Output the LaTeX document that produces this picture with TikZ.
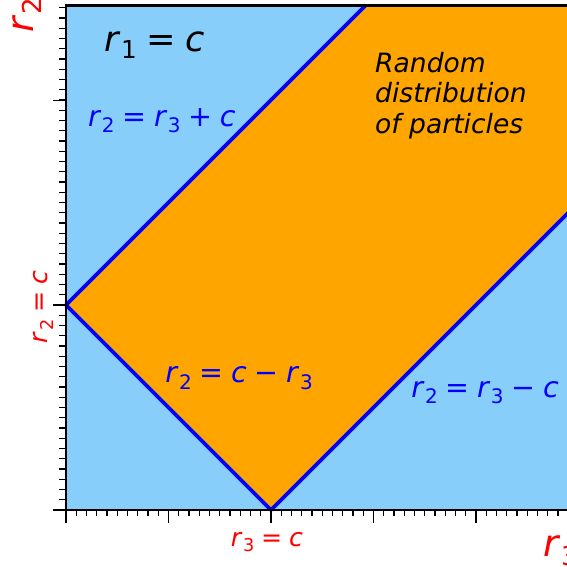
\documentclass[tikz,border=0pt]{standalone}
\usepackage{fontspec}
\setmainfont{DejaVu Sans}
\usetikzlibrary{positioning}
\definecolor{sky}{RGB}{135,206,250}
\definecolor{band}{RGB}{255,165,0}
\definecolor{edge}{RGB}{0,0,255}
\definecolor{axred}{RGB}{255,0,0}
\tikzset{
  frame/.style={line width=2.2pt,black},
  bound/.style={line width=2.8pt,edge},
  tick/.style={line width=0.8pt,black},
  blab/.style={text=edge,font=\fontsize{21.5}{25}\selectfont,inner sep=0pt},
  rlab/.style={text=axred,font=\fontsize{19}{23}\selectfont,inner sep=0pt},
  axlab/.style={text=axred,font=\fontsize{28}{32}\selectfont,inner sep=0pt},
  toplab/.style={text=black,font=\fontsize{26.5}{30}\selectfont,inner sep=0pt},
  note/.style={text=black,font=\fontsize{20}{23}\selectfont\itshape,align=left,inner sep=0pt},
}
\newcommand\rvar[1]{\textit{r}\kern0.02em\raisebox{-0.22em}{\scalebox{0.7}{#1}}}
\newcommand\bop[1]{\hspace{0.27em}#1\hspace{0.27em}}

\begin{document}
\begin{tikzpicture}[x=5.423cm,y=5.423cm]
\clip (-0.322,-0.278) rectangle (2.444,2.488);
% plot area
\fill[sky] (0,0) rectangle (2.6,2.463);
\coordinate (apex) at (0,1);
\coordinate (foot) at (1,0);
\coordinate (tip) at (1.463,2.463);
\coordinate (corner) at (2.6,2.463);
\coordinate (far) at (2.6,1.6);
\fill[band] (apex) -- (tip) -- (corner) -- (far) -- (foot) -- cycle;
\draw[bound] (apex) -- (tip);
\draw[bound] (apex) -- (foot);
\draw[bound] (foot) -- (far);
% ticks
\foreach \k in {0,...,49} \draw[tick] (0,\k*0.05) -- ++(-0.034,0);
\foreach \y in {0,1,2} \draw[tick] (0,\y) -- ++(-0.063,0);
\foreach \k in {0,...,48} \draw[tick] (\k*0.05,0) -- ++(0,-0.03);
\foreach \x in {0,0.5,...,2} \draw[tick] (\x,0) -- ++(0,-0.062);
% frame
\draw[frame] (corner) -- (0,2.463) -- (0,0) -- (2.6,0);
% labels
\node[toplab,anchor=base west] (rone) at (0.185,2.239) {\rvar{1}\bop{=}\textit{c}};
\node[blab,anchor=base west] (upper) at (0.107,1.873) {\rvar{2}\bop{=}\rvar{3}\bop{+}\textit{c}};
\node[blab,anchor=base west] (lower) at (0.483,0.620) {\rvar{2}\bop{=}\textit{c}\bop{−}\rvar{3}};
\node[blab,anchor=base west] (right) at (1.683,0.551) {\rvar{2}\bop{=}\rvar{3}\bop{−}\textit{c}};
\node[note,anchor=north west] (rand) at (1.507,2.236) {Random\\distribution\\of particles};
\node[rlab,rotate=90,anchor=base] (ytick) at (-0.088,0.99) {\rvar{2}\bop{=}\textit{c}};
\node[rlab,anchor=base] (xtick) at (0.98,-0.176) {\rvar{3}\bop{=}\textit{c}};
\node[axlab,rotate=90,anchor=base west] (ylab) at (-0.161,2.327) {\rvar{2}};
\node[axlab,anchor=base west] (xlab) at (2.327,-0.229) {\rvar{3}};
\end{tikzpicture}
\end{document}
